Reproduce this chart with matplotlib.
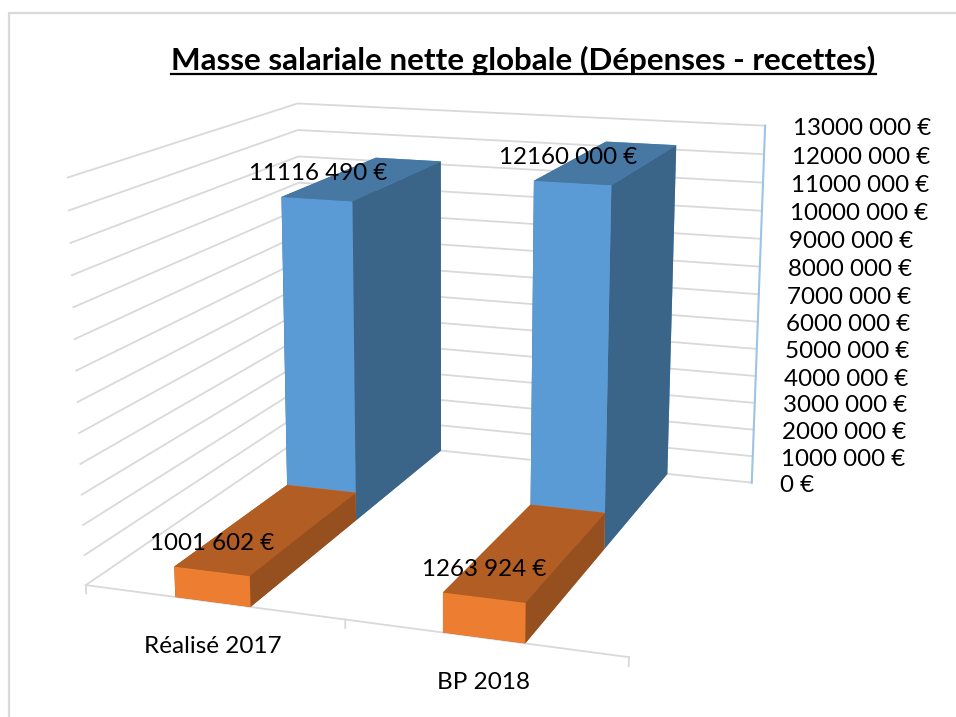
import numpy as np
import matplotlib
matplotlib.use("Agg")
import matplotlib.pyplot as plt
from matplotlib.lines import Line2D

plt.rcParams['font.family'] = ['Lato', 'DejaVu Sans']

W, H = 956, 717

categories = ["Réalisé 2017", "BP 2018"]
depenses = [11116490, 12160000]
recettes = [1001602, 1263924]
ticks = list(range(0, 14000000, 1000000))
title = "Masse salariale nette globale (Dépenses - recettes)"

blue_faces = {"front": "#5B9BD5", "side": "#3B6588", "top": "#4777A3"}
orange_faces = {"front": "#ED7D31", "side": "#964F1E", "top": "#B15D23"}
GRID = "#D9D9D9"

# camera calibration: (category, depth, millions) -> image pixel
calib = [
    (0, 0, 0, 86, 585), (1, 0, 0, 345, 620), (2, 0, 0, 629, 657),
    (2, 2, 0, 752, 483), (0, 0, 13, 67, 178), (0, 0, 12, 69, 210),
    (0, 0, 9, 74, 307), (0, 2, 13, 298, 103), (0, 2, 12, 298, 130),
    (0, 2, 11, 298, 157), (2, 2, 13, 766, 126), (2, 2, 12, 764, 155),
    (2, 2, 9, 760, 238), (2, 2, 6, 757.7, 321),
]


def fit_camera(points):
    rows = []
    for X, Y, Z, u, v in points:
        u, v = u / 1000, v / 1000
        rows.append([X, Y, Z, 1, 0, 0, 0, 0, -u * X, -u * Y, -u * Z, -u])
        rows.append([0, 0, 0, 0, X, Y, Z, 1, -v * X, -v * Y, -v * Z, -v])
    _, _, vt = np.linalg.svd(np.array(rows, float))
    P = vt[-1].reshape(3, 4)
    P = np.diag([1000, 1000, 1]) @ P
    P[:, 2] /= 1e6  # z column in euros
    P /= P[2] @ np.array([1, 1, 6.5e6, 1])
    return P


P = fit_camera(calib)


def project(x, y, z):
    q = P @ np.array([x, y, z, 1.0])
    return q[0] / q[2], q[1] / q[2]


fig = plt.figure(figsize=(W / 100, H / 100), dpi=100, facecolor="white")
ax = fig.add_axes([0, 0, 1, 1], projection="3d", computed_zorder=False)
ax.set_axis_off()
ax.apply_aspect = lambda position=None: None


def camera_matrix():
    to_data = ax.transData.inverted().get_matrix()
    flip = np.array([[1, 0, 0], [0, -1, H], [0, 0, 1.0]])
    A = to_data @ flip @ P
    # depth row: stays negative and grows with distance from the camera
    return np.vstack([A[0], A[1], A[2] - np.array([0, 0, 0, 3.0]), A[2]])


ax.get_proj = camera_matrix

# walls
for v in ticks:
    ax.plot([0, 0, 2], [0, 2, 2], [v, v, v], color=GRID, lw=1.3, zorder=1)
ax.plot([0, 2], [0, 0], [0, 0], color=GRID, lw=1.3, zorder=1)
for c in range(len(categories) + 1):
    ax.plot([c, c], [0, 0], [0, -280000], color=GRID, lw=1.3, zorder=1)
ax.plot([2, 2], [2, 2], [0, ticks[-1]], color="#9DC3E6", lw=1.5, zorder=2)


def faces(c):
    return [c["top"], c["top"], c["front"], c["front"], c["side"], c["side"]]


BAR = 0.29
for i, (dep, rec) in enumerate(zip(depenses, recettes)):
    x0 = i + (1 - BAR) / 2
    ax.bar3d(x0, 1, 0, BAR, 1, dep, color=faces(blue_faces), shade=False,
             edgecolor="none", zorder=3 + i)
    ax.bar3d(x0, 0, 0, BAR, 1, rec, color=faces(orange_faces), shade=False,
             edgecolor="none", zorder=6 + i)


def money(v):
    return "0 €" if v == 0 else f"{v // 1000} {v % 1000:03d} €"


def px_text(px, py, s, **kw):
    return fig.text(px / W, 1 - py / H, s, color="black", **kw)


VAL = 17.4
for i, (dep, rec) in enumerate(zip(depenses, recettes)):
    xc = i + 0.5
    px, py = project(xc, 1, dep)
    px_text(px + (1 if i == 0 else -4), py - 26, money(dep), fontsize=VAL,
            ha="center", va="center")
    px, py = project(xc, 0, rec)
    px_text(px, py - 28, money(rec), fontsize=VAL, ha="center", va="center")
    px, py = project(xc, 0, 0)
    px_text(px, py + 45, categories[i], fontsize=17.5, ha="center", va="center")

for v in ticks:
    px, py = project(2, 2, v)
    px_text(px + 28, py + 3, money(v), fontsize=VAL, ha="left", va="center")

t = px_text(523.5, 60, title, fontsize=22.6, fontweight="bold", ha="center", va="center")
bb = t.get_window_extent(fig.canvas.get_renderer())
fig.add_artist(Line2D([bb.x0 / W, bb.x1 / W], [1 - 74 / H, 1 - 74 / H],
                      color="black", lw=1.6))

# chart frame
fig.add_artist(Line2D([9 / W, 9 / W, 1], [0, 1 - 13 / H, 1 - 13 / H],
                      color=GRID, lw=1.6))

fig.savefig("out.png", dpi=100)
